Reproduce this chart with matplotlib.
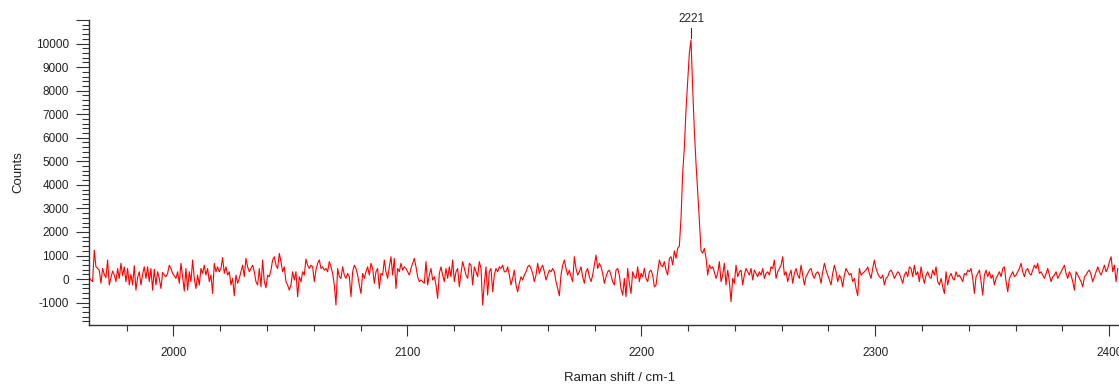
import numpy as np
import matplotlib
matplotlib.use("Agg")
import matplotlib.pyplot as plt
from matplotlib.ticker import MultipleLocator

# Raman spectrum: evenly spaced shift axis, counts listed segment by segment
shift_start = 1963.3      # cm-1
shift_step = 0.7126       # cm-1 per channel

counts_a = [
    30, 60, -40, -110, 1230, 520, 450, 380, -180, 450,
    200, 60, 810, -250, 60, 340, 170, -110, 450, 30,
    670, 140, 520, -110, 450, -250, 200, -250, 570, -470,
    60, 310, -250, 200, 520, 30, 520, -110, 450, -470,
    420, -250, 310, 30, -400, 280, 170, 100, 240, 590,
    450, 240, 140, 30, 310, -180, 670, 100, -510, 450,
    -470, 310, -110, 810, 30, -400, 170, -250, 450, 240,
    590, 170, 450, -110, 170, -610, 670, 310, 520, 310,
    450, 910, 240, 520, 170, 310, -250, 30, -710, 170,
    -180, 30, 310, 590, 100, 880, 520, 310, 450, 590,
    310, -110, -250, 450, -330, 810, -110, -370, 170, 100,
    380, 810, 950, 590, 450, 1090, 740, 310, 520, -110,
    -250, -470, -250, 310, -40,
]

counts_b = [
    310, -750, 100, -110, 310, 170, 850, 590, 450, 590,
    520, -110, 380, 670, 810, 450, 520, 380, 450, 310,
    740, 520, 240, -250, -1100, 450, 100, 30, 520, 170,
    30, 240, 100, -750, 310, 590, 450, 170, -250, -610,
    240, 30, 310, 520, 170, 670, 450, -180, 310, 450,
    -400, 240, 170, 810, 310, 30, 520, 950, 170, 880,
    -400, 450, 310, 670, 380, 520, 450, 310, 170, 450,
    670, 880, 520, 100, -110, -40, -110, -180, 740, -250,
    170, 450, -40, 100, -250, -820, 240, 520, 170, -110,
    450, 30, 520, 100, 810, -110, 310, 450, -330, 240,
    740, 450, 170, 30, 670, 590, -250, 520, 310, 100,
    740, 450, -1100, -180, 520, -680, 310, 450, -540, 170,
    450, 310, 520, 450, 590, 310,
]

counts_c = [
    310, 520, 170, -250, 30, 380, -250, -540, -180, 100,
    -40, 170, 310, 520, 590, 450, 240, -110, 170, 670,
    240, 450, 590, 310, -40, 170, 380, 310, 450, 310,
    -110, -400, -710, 170, 590, 810, 450, 170, 380, 100,
    -110, 950, 450, 170, 310, 520, 100, -180, 310, 450,
    100, -110, 170, 590, 1020, 450, 670, 520, 240, -180,
    100, 310, 380, 170, -110, -250, 380, 450, 170, -400,
    -680, 30, -750, 450, -180, -610, 310, 100, 30, 520,
    -110, 240, 100, 450, 30, -110, 310, 380, 170, -330,
    -250, 310, 810, 590, 520, 740, 380, 170, 880,
]

counts_peak = [
    950, 600, 1200, 880, 1300, 1400, 2600, 4500, 5600, 7200,
    8400, 9600, 10150, 8100, 6300, 4900, 3700, 2500, 1200, 1100,
    1300, 900, 170, 600, 450,
]

counts_d = [
    520, 310, 30, 240, 740, -110, 170, 670, -250, 380,
    -110, -960, 30, -180, 590, 100, 310, 380, -250, 170,
    450, 310, 170, 450, -40, 380, 240, 100, 310, 170,
    450, 30, 240, 310, 170, 520, 450, 810, 30, 310,
    450, 590, 950, 170, 310, -110, 170, 380, -180, 240,
    450, 170, 30, 590, 170, -250, 100, 240, 380, 450,
    170, 30, 240, 310, 170, -180, 310, 670, 380, 170,
    -40, -250, 240, 590, 310, -110, 170, 30, -330, 170,
    450, 310, 170, 240, -110, 30, -400, -710, 450, 170,
    240, 310, 380, 520, 240, 30, 450, 810, 450, 240,
    100, 30, 170, -250, 30, 100, 310, 380, 240, 30,
    170, 310, 240, 30, -180, 170, 310, 100, 520,
]

counts_e = [
    450, 100, 590, 170, 310, -110, 520, 100, -180, 170,
    310, 100, 30, 380, 170, 520, -110, -250, 30, -330,
    -610, 310, -250, 100, 240, 30, -40, 310, 100, 170,
    30, -110, 240, 170, 380, 310, 450, 30, -610, 100,
    240, 380, -110, -680, 170, 380, 100, 310, 30, 170,
    -250, 30, 170, 310, 100, 450, 520, -110, -540, 30,
    170, 310, 100, 170, 310, 450, 670, 310, 100, 380,
    450, 240, 170, 380, 590, 450, 670, 240, 310, 170,
    30, 240, 450, 170, -110, 100, 170, 310, 30, 170,
    310, 450, 590, 240, 30, 310, 170, -110, -470, 310,
    170, 30, -110, -330, 100, 170, 310, 380, 170, -110,
    100, 310, 520, 310, 170, 380, 590, 310, 450, 740,
    950, 310, 590, -110, 450,
]

x_major_ticks = [2000, 2100, 2200, 2300, 2400]
y_major_ticks = list(range(-1000, 11001, 1000))
y_tick_labels = [str(v) if v <= 10000 else "" for v in y_major_ticks]

counts = np.concatenate([counts_a, counts_b, counts_c, counts_peak,
                         counts_d, counts_e]).astype(float)
shift = shift_start + shift_step * np.arange(len(counts))

plt.rcParams["font.family"] = ["Liberation Sans", "DejaVu Sans"]
text_color = "#222222"

W, H = 1119, 388
fig = plt.figure(figsize=(W / 100, H / 100), dpi=100)
ax_left, ax_right, ax_top, ax_bottom = 89, 1151, 20, 325
ax = fig.add_axes([ax_left / W, (H - ax_bottom) / H,
                   (ax_right - ax_left) / W, (ax_bottom - ax_top) / H])

ax.plot(shift, counts, color="#ff0000", lw=0.8)

ax.set_xlim(1963.9, 2417.9)
ax.set_ylim(-1950, 11000)

ax.set_xticks(x_major_ticks)
ax.xaxis.set_minor_locator(MultipleLocator(20))
ax.set_yticks(y_major_ticks)
ax.set_yticklabels(y_tick_labels)
ax.yaxis.set_minor_locator(MultipleLocator(200))

for side in ("top", "right"):
    ax.spines[side].set_visible(False)
for side in ("left", "bottom"):
    ax.spines[side].set_color("#333333")
    ax.spines[side].set_linewidth(1.0)

ax.tick_params(axis="y", which="major", length=9.5, width=0.8, pad=5,
               labelsize=8.5, colors="#333333", labelcolor=text_color)
ax.tick_params(axis="y", which="minor", length=5, width=0.8, colors="#333333")
ax.tick_params(axis="x", which="major", length=8, width=0.8, pad=8,
               labelsize=8.5, colors="#333333", labelcolor=text_color)
ax.tick_params(axis="x", which="minor", length=4, width=0.8, colors="#333333")

ax.set_xlabel("Raman shift / cm-1", fontsize=9.5, color=text_color)
ax.set_ylabel("Counts", fontsize=9.5, color=text_color)
ax.xaxis.label.set_va("center")
ax.yaxis.label.set_va("center")
ax.xaxis.set_label_coords(0.5, -0.174)
ax.yaxis.set_label_coords((18 - ax_left) / (ax_right - ax_left), 0.5)

# Peak marker: position of the maximum with a short tick above it
k = int(np.argmax(counts))
peak_x, peak_y = shift[k], counts[k]
ax.plot([peak_x, peak_x], [peak_y + 80, peak_y + 500], color="#333333", lw=0.8)
ax.text(peak_x, peak_y + 640, f"{peak_x:.0f}", ha="center", va="bottom",
        fontsize=8.5, color=text_color)

fig.savefig("out.png", dpi=100)
